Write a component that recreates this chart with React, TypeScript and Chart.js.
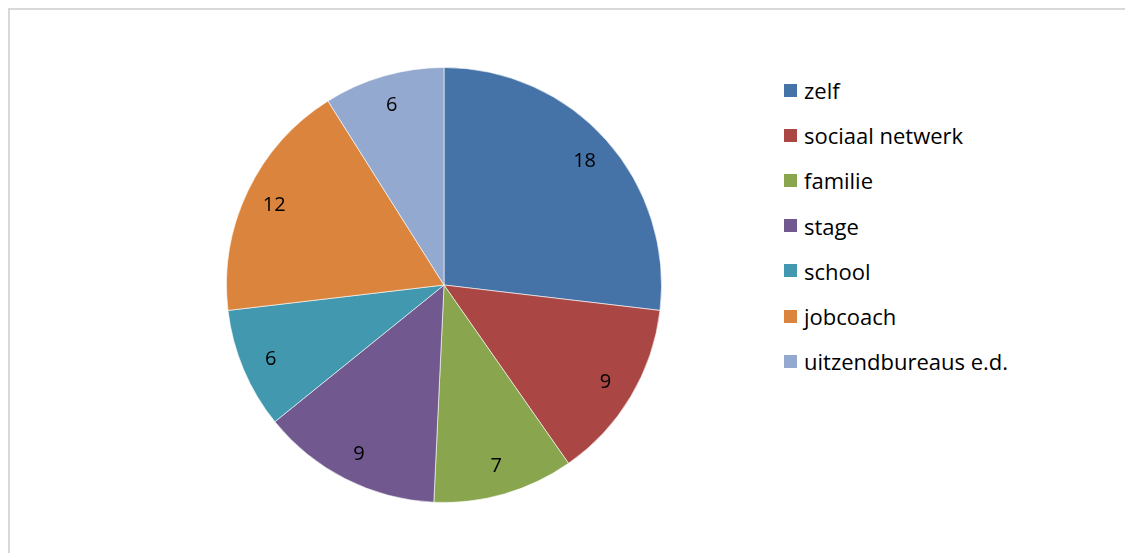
import React, { useEffect, useRef } from "react";
import { Chart, registerables } from "chart.js";

Chart.register(...registerables);

const categories = ["zelf", "sociaal netwerk", "familie", "stage", "school", "jobcoach", "uitzendbureaus e.d."];
const values = [18, 9, 7, 9, 6, 12, 6];
const colors = ["#4572A7", "#AA4643", "#89A54E", "#71588F", "#4198AF", "#DB843D", "#93A9CF"];

const FONT = "'Open Sans', Lato, sans-serif";

const labelPlugin = {
  id: "sliceLabels",
  afterDatasetsDraw(chart: any) {
    const ctx = chart.ctx;
    const meta = chart.getDatasetMeta(0);
    ctx.save();
    ctx.fillStyle = "#000";
    ctx.font = `20px ${FONT}`;
    ctx.textAlign = "center";
    ctx.textBaseline = "middle";
    meta.data.forEach((arc: any, i: number) => {
      const { x, y, startAngle, endAngle, outerRadius } = arc.getProps(
        ["x", "y", "startAngle", "endAngle", "outerRadius"],
        true
      );
      const mid = (startAngle + endAngle) / 2;
      const r = outerRadius * 0.865;
      ctx.fillText(String(values[i]), x + Math.cos(mid) * r, y + Math.sin(mid) * r + 1);
    });
    ctx.restore();
  },
};

export default function App() {
  const ref = useRef<HTMLCanvasElement | null>(null);
  useEffect(() => {
    if (!ref.current) return;
    const chart = new Chart(ref.current, {
      type: "pie",
      data: {
        labels: categories,
        datasets: [
          {
            data: values,
            backgroundColor: colors,
            borderColor: "rgba(255,255,255,0.6)",
            borderWidth: 1,
          },
        ],
      },
      options: {
        animation: false,
        responsive: false,
        maintainAspectRatio: false,
        layout: { padding: 0 },
        plugins: {
          legend: { display: false },
          tooltip: { enabled: false },
        },
      },
      plugins: [labelPlugin],
    });
    return () => chart.destroy();
  }, []);

  return (
    <div
      style={{
        position: "relative",
        width: 1125,
        height: 545,
        borderTop: "2px solid #d9d9d9",
        borderLeft: "2px solid #d9d9d9",
        boxSizing: "border-box",
        background: "#fff",
        fontFamily: FONT,
      }}
    >
      <canvas
        ref={ref}
        width={436}
        height={436}
        style={{ position: "absolute", left: 216, top: 57, width: 436, height: 436 }}
      />
      {categories.map((c, i) => (
        <div
          key={c}
          style={{
            position: "absolute",
            left: 774,
            top: 70 + i * 45.2,
            height: 20,
            display: "flex",
            alignItems: "center",
            whiteSpace: "nowrap",
            fontSize: 22,
            color: "#000",
          }}
        >
          <span
            style={{
              display: "inline-block",
              width: 13,
              height: 13,
              background: colors[i],
              marginRight: 7,
            }}
          />
          <span>{c}</span>
        </div>
      ))}
    </div>
  );
}
